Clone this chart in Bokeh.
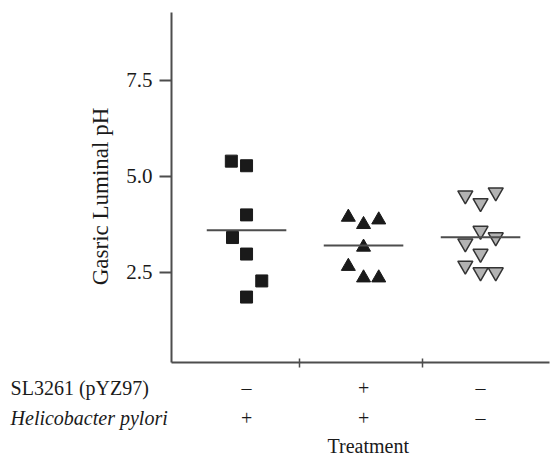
import math
from bokeh.plotting import figure
from bokeh.models import Range1d, FixedTicker, Label, NumeralTickFormatter, LinearAxis
from bokeh.embed import file_html
from bokeh.resources import INLINE

# ---- data ----
groups = [1, 2, 3]
row1_label = "SL3261 (pYZ97)"
row1_signs = ["–", "+", "–"]
row2_label = "Helicobacter pylori"
row2_signs = ["+", "+", "–"]
x_title = "Treatment"
y_title = "Gasric Luminal pH"
y_ticks = [2.5, 5.0, 7.5]
divider_ticks = [1.45, 2.5]

g1_y = [5.40, 5.28, 4.00, 3.41, 2.98, 2.28, 1.86]
g1_jit = [-0.13, 0.0, 0.0, -0.12, 0.0, 0.13, 0.0]
g2_y = [3.94, 3.75, 3.87, 3.16, 2.66, 2.36, 2.36]
g2_jit = [-0.13, 0.0, 0.13, 0.0, -0.13, 0.0, 0.13]
g3_y = [4.51, 4.31, 4.59, 3.59, 3.42, 3.26, 2.99, 2.68, 2.51, 2.51]
g3_jit = [-0.13, 0.0, 0.13, 0.0, 0.13, -0.13, 0.0, -0.13, 0.0, 0.13]
means = [3.60, 3.20, 3.42]

# axis extents (data units)
x_lo, x_hi = 0.359, 3.59
y_lo, y_hi = 0.16, 9.27

FONT = "Liberation Serif"
AX = "#4d4d4d"
TXT = "#1a1a1a"

p = figure(width=550, height=459, output_backend="svg", toolbar_location=None,
           x_range=Range1d(-1.103, 3.598), y_range=Range1d(-2.37, 9.583),
           x_axis_type=None, y_axis_type=None, min_border=0)
p.outline_line_color = None
p.background_fill_color = "white"
p.border_fill_color = "white"

# y axis
ya = LinearAxis(fixed_location=x_lo, bounds=(y_lo, y_hi))
ya.ticker = FixedTicker(ticks=y_ticks)
ya.formatter = NumeralTickFormatter(format="0.0")
ya.axis_line_color = AX
ya.axis_line_width = 2
ya.major_tick_line_color = AX
ya.major_tick_line_width = 2
ya.major_tick_in = 0
ya.major_tick_out = 12
ya.minor_tick_line_color = None
ya.major_label_text_font = FONT
ya.major_label_text_font_size = "21px"
ya.major_label_text_color = TXT
ya.major_label_standoff = 7
p.add_layout(ya, "left")

# y title
p.add_layout(Label(x=-0.25, y=4.48, text=y_title, angle=math.pi / 2,
                   text_font=FONT, text_font_size="23px", text_align="center",
                   text_baseline="middle", text_color=TXT))

# x axis
xa = LinearAxis(fixed_location=y_lo, bounds=(x_lo, x_hi))
xa.ticker = FixedTicker(ticks=divider_ticks)
xa.major_label_overrides = {t: "" for t in divider_ticks}
xa.axis_line_color = AX
xa.axis_line_width = 2
xa.major_tick_line_color = AX
xa.major_tick_line_width = 1.5
xa.major_tick_in = 4
xa.major_tick_out = 5
xa.minor_tick_line_color = None
p.add_layout(xa, "below")

# points
p.scatter([groups[0] + j for j in g1_jit], g1_y,
          marker="square", size=12, fill_color=TXT, line_color=TXT)
p.scatter([groups[1] + j for j in g2_jit], g2_y,
          marker="triangle", size=14, fill_color=TXT, line_color=TXT)
p.scatter([groups[2] + j for j in g3_jit], g3_y,
          marker="inverted_triangle", size=15, fill_color="#b3b3b3",
          line_color="#333333", line_width=1.5)

# mean lines
half = 0.34
p.segment(x0=[g - half for g in groups], y0=means,
          x1=[g + half for g in groups], y1=means,
          line_color=AX, line_width=2)

# treatment rows
row_x = -1.017
row1_y, row2_y, title_y = -0.50, -1.28, -2.03
for lab, y, style in [(row1_label, row1_y, "normal"), (row2_label, row2_y, "italic")]:
    p.add_layout(Label(x=row_x, y=y, text=lab,
                       text_font=FONT, text_font_size="20px", text_font_style=style,
                       text_baseline="middle", text_align="left", text_color=TXT))
for g, s1, s2 in zip(groups, row1_signs, row2_signs):
    for s, y in [(s1, row1_y), (s2, row2_y)]:
        p.add_layout(Label(x=g, y=y, text=s, text_font=FONT,
                           text_font_size="20px", text_baseline="middle",
                           text_align="center", text_color=TXT))
p.add_layout(Label(x=groups[1] + 0.04, y=title_y, text=x_title,
                   text_font=FONT, text_font_size="20px", text_baseline="middle",
                   text_align="center", text_color=TXT))

open("out.html", "w").write(file_html(p, INLINE))
